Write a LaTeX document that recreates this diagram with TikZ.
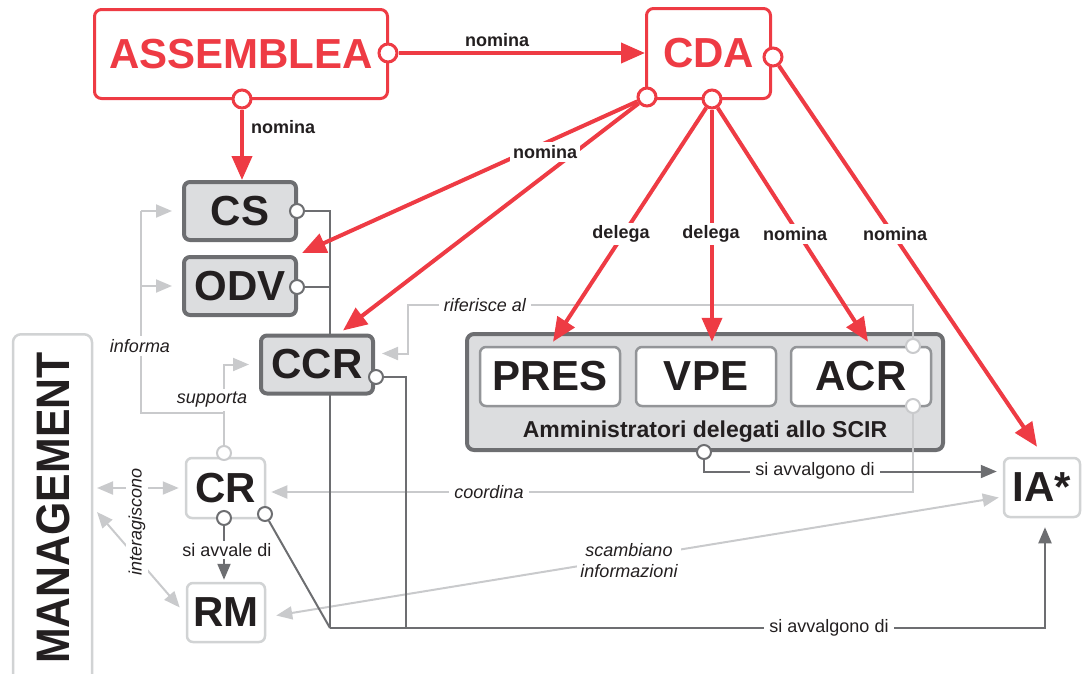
\documentclass[tikz,border=0pt]{standalone}
\usepackage{fontspec}
\usepackage{graphicx}
\setmainfont{Liberation Sans}
\usetikzlibrary{arrows.meta,calc}
\definecolor{cred}{HTML}{EE3B44}
\definecolor{cdark}{HTML}{6D6E71}
\definecolor{clight}{HTML}{C9CACC}
\definecolor{cboxl}{HTML}{D1D3D4}
\definecolor{csub}{HTML}{939598}
\definecolor{cfill}{HTML}{DCDDDF}
\definecolor{ctext}{HTML}{231F20}
\pgfdeclarelayer{adm}\pgfdeclarelayer{light}\pgfdeclarelayer{dark}\pgfdeclarelayer{front}
\pgfsetlayers{adm,light,dark,main,front}
\newcommand{\bigfont}{\fontsize{42}{42}\selectfont\bfseries}
\newcommand{\lblfont}{\fontsize{18}{21}\selectfont}
\tikzset{
  redbox/.style={draw=cred, line width=3pt, rounded corners=7pt, fill=white, text=cred, font=\bigfont, inner sep=0pt},
  graybox/.style={draw=cdark, line width=4pt, rounded corners=6pt, fill=cfill, text=ctext, font=\bigfont, inner sep=0pt, minimum width=112pt, minimum height=58pt},
  subbox/.style={draw=csub, line width=2.5pt, rounded corners=6pt, fill=white, text=ctext, font=\bigfont, inner sep=0pt, minimum width=140pt, minimum height=59pt},
  admbox/.style={draw=cdark, line width=4pt, rounded corners=7pt, fill=cfill, inner sep=0pt},
  wbox/.style={draw=cboxl, line width=2.5pt, rounded corners=6pt, fill=white, text=ctext, font=\bigfont, inner sep=0pt},
  rcirc/.style={circle, draw=cred, line width=3pt, fill=white, minimum size=18pt, inner sep=0pt},
  dcirc/.style={circle, draw=cdark, line width=2pt, fill=white, minimum size=14pt, inner sep=0pt},
  lcirc/.style={circle, draw=clight, line width=2pt, fill=white, minimum size=14pt, inner sep=0pt},
  rarrow/.style={draw=cred, line width=4pt, -{Triangle[length=24pt,width=20pt]}},
  lline/.style={draw=clight, line width=2pt},
  larrow/.style={lline, -{Triangle[length=16pt,width=13pt]}},
  larrowb/.style={lline, {Triangle[length=16pt,width=13pt]}-{Triangle[length=16pt,width=13pt]}},
  dline/.style={draw=cdark, line width=2pt},
  darrow/.style={dline, -{Triangle[length=16pt,width=13pt]}},
  blabel/.style={font=\lblfont\bfseries, text=ctext, fill=white, inner sep=3pt},
  ilabel/.style={font=\lblfont\itshape, text=ctext, fill=white, inner sep=5pt},
  rlabel/.style={font=\lblfont, text=ctext, fill=white, inner sep=5pt},
}
\begin{document}
\begin{tikzpicture}[x=1pt,y=-1pt]
\useasboundingbox (0,0) rectangle (1082,673);

% ---------- admin group ----------
\begin{pgfonlayer}{adm}
\node[admbox, minimum width=476pt, minimum height=116pt] (adm) at (705,392) {};
\node[subbox] (pres) at (550,376.5) {PRES};
\node[subbox] (vpe) at (706,376.5) {VPE};
\node[subbox] (acr) at (861,376.5) {ACR};
\node[font=\fontsize{23}{23}\selectfont\bfseries, text=ctext, anchor=base, inner sep=0pt] (admt) at (705,437) {Amministratori delegati allo SCIR};
\end{pgfonlayer}

% ---------- boxes ----------
\node[redbox, minimum width=293pt, minimum height=89pt] (ass) at (241,54) {ASSEMBLEA};
\node[redbox, minimum width=124pt, minimum height=90pt] (cda) at (708.5,53.5) {CDA};
\node[graybox] (cs) at (240,211) {CS};
\node[graybox] (odv) at (240,286) {ODV};
\node[graybox] (ccr) at (317,364.5) {CCR};
\node[wbox, minimum width=76pt, minimum height=59pt] (ia) at (1042,487.5) {IA*};
\node[wbox, minimum width=79pt, minimum height=60pt] (cr) at (225.5,488) {CR};
\node[wbox, minimum width=78pt, minimum height=59pt] (rm) at (226,612.5) {RM};
\node[draw=cboxl, line width=2.5pt, rounded corners=8pt, minimum width=79pt, minimum height=380pt, inner sep=0pt, anchor=north] (mbox) at (52.5,333) {};
\node[rotate=90, text=ctext, font=\fontsize{47}{47}\selectfont\bfseries, inner sep=0pt] (mgmt) at (53,508) {\scalebox{0.91}[1]{MANAGEMENT}};

% ---------- circles ----------
\begin{pgfonlayer}{front}
\node[rcirc] (ass_r) at (388,53) {};
\node[rcirc] (ass_b) at (242,99) {};
\node[rcirc] (cda_l) at (647,97) {};
\node[rcirc] (cda_b) at (712,99) {};
\node[rcirc] (cda_r) at (773,57) {};
\node[dcirc] (cs_c) at (297,211) {};
\node[dcirc] (odv_c) at (297,287) {};
\node[dcirc] (ccr_c) at (376,377) {};
\node[lcirc] (acr_t) at (913,346) {};
\node[lcirc] (acr_b) at (913,406) {};
\node[dcirc] (adm_b) at (704,452) {};
\node[lcirc] (cr_t) at (224,453) {};
\node[dcirc] (cr_b) at (224,518) {};
\node[dcirc] (cr_r) at (265,514) {};
\end{pgfonlayer}

\coordinate (j1) at (224,413);
\coordinate (j2) at (141,211);
\coordinate (j3) at (408,305);
\coordinate (m1) at (97,488);
\coordinate (m2) at (97,512);
\coordinate (b1) at (330,628);
\coordinate (b2) at (406,628);

% ---------- light connectors ----------
\begin{pgfonlayer}{light}
\draw[lline] (cr_t) -- (j1) -| (j2);
\draw[larrow] (j2) -- ([xshift=-10pt]cs.west);
\draw[larrow] (j2 |- odv.west) -- ([xshift=-10pt]odv.west);
\draw[larrow] (j1) |- ([xshift=-10pt]ccr.west);
\draw[larrow] (acr_t) |- (j3) |- ([shift={(7,-11)}]ccr.east);
\draw[larrow] (acr_b) |- ([shift={(5,4)}]cr.east);
\draw[larrowb] (m1) -- ([xshift=-6pt]cr.west);
\draw[larrowb] (m2) -- ([shift={(-6,-5)}]rm.west);
\draw[larrowb] ([shift={(-4,10)}]ia.west) -- ([shift={(10,3)}]rm.east);
\end{pgfonlayer}

% ---------- dark connectors ----------
\begin{pgfonlayer}{dark}
\draw[dline] (cs_c) -| (b1);
\draw[dline] (odv_c) -- (odv_c -| b1);
\draw[dline] (ccr_c) -| (b2);
\draw[dline] (cr_r) -- (b1);
\draw[darrow] (b1) -| ([shift={(3,9)}]ia.south);
\draw[darrow] (adm_b) |- ([shift={(-6,-16)}]ia.west);
\draw[darrow] (cr_b) -- ([yshift=2pt]cr_b |- rm.north);
\end{pgfonlayer}

% ---------- red connectors ----------
\draw[rarrow] (ass_r) -- (ass_r -| cda.west);
\draw[rarrow] (ass_b) -- (ass_b |- cs.north);
\draw[rarrow] (cda_l) -- ([shift={(4,-2)}]odv.north east);
\draw[rarrow] (cda_l) -- ([shift={(26,-3)}]ccr.north);
\draw[rarrow] (cda_b) -- ([shift={(3,-4)}]pres.north);
\draw[rarrow] (cda_b) -- ([yshift=4pt]cda_b |- vpe.north);
\draw[rarrow] (cda_b) -- ([shift={(7,-4)}]acr.north);
\draw[rarrow] (cda_r) -- ([shift={(-5,-10)}]ia.north);

% ---------- labels ----------
\begin{pgfonlayer}{front}
\node[blabel] (n1) at (497,40) {nomina};
\node[blabel, anchor=west] (n2) at (248,127) {nomina};
\node[blabel] (n3) at (545,152) {nomina};
\node[blabel] (d1) at (621,234) {delega};
\node[blabel] (d2) at (711,234) {delega};
\node[blabel] (n4) at (795,234) {nomina};
\node[blabel] (n5) at (895,234) {nomina};
\node[ilabel] (lrif) at (485,305) {riferisce al};
\node[ilabel] (lcoo) at (489,492) {coordina};
\node[ilabel, inner sep=3pt] (linf) at (140,346) {informa};
\node[ilabel, inner sep=3pt] (lsup) at (212,400) {supporta};
\node[ilabel, rotate=90, inner sep=3pt] (lint) at (137,522) {interagiscono};
\node[ilabel, align=center, inner sep=3pt] (lsca) at (629,561) {scambiano\\informazioni};
\node[rlabel] (lav1) at (815,471) {si avvalgono di};
\node[rlabel] (lav2) at (829,628) {si avvalgono di};
\node[rlabel, inner sep=2pt] (lav3) at (227,550) {si avvale di};
\end{pgfonlayer}
\end{tikzpicture}
\end{document}
